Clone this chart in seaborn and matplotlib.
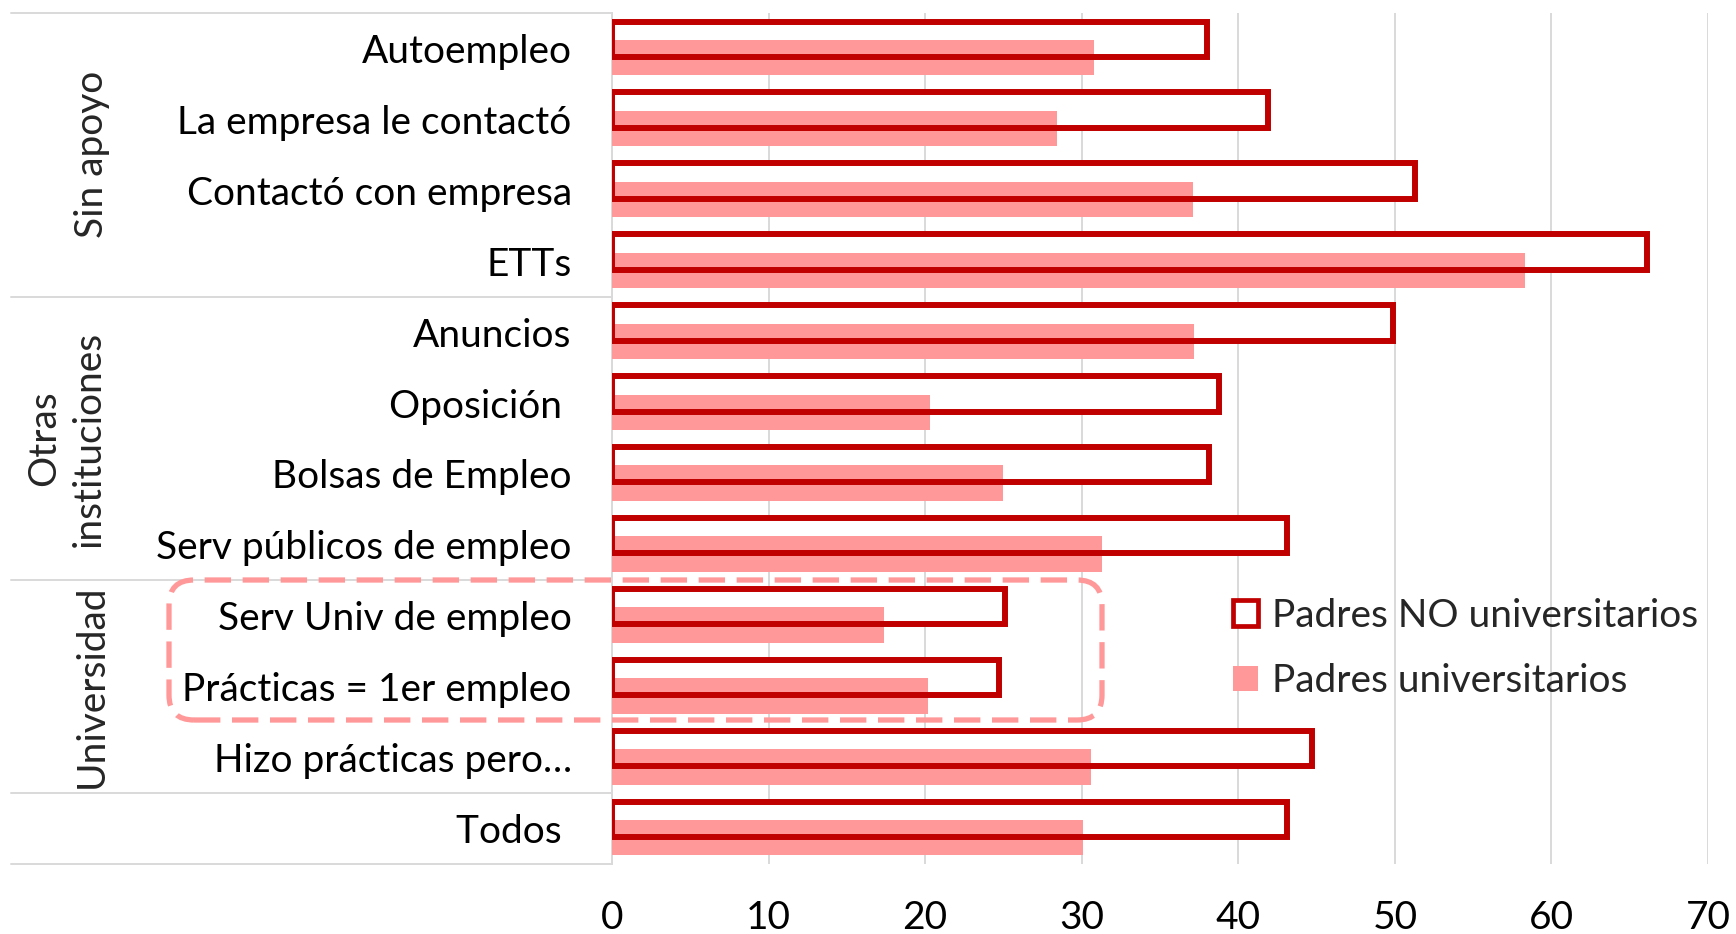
import pandas as pd
import matplotlib
matplotlib.use('Agg')
import matplotlib.pyplot as plt
import seaborn as sns
from matplotlib.patches import Patch, FancyBboxPatch

# Datos
categorias = ['Autoempleo', 'La empresa le contactó', 'Contactó con empresa', 'ETTs',
              'Anuncios', 'Oposición ', 'Bolsas de Empleo', 'Serv públicos de empleo',
              'Serv Univ de empleo', 'Prácticas = 1er empleo', 'Hizo prácticas pero…', 'Todos ']
no_univ = [38.0, 41.9, 51.3, 66.1, 49.9, 38.8, 38.1, 43.1, 25.1, 24.7, 44.7, 43.1]
univ = [30.8, 28.4, 37.1, 58.3, 37.2, 20.3, 25.0, 31.3, 17.4, 20.2, 30.6, 30.1]
grupos = ['Sin apoyo', 'Otras\ninstituciones', 'Universidad']
grupo_centros = [1.5, 5.5, 9.0]
separadores = [-0.5, 3.5, 7.5, 10.5, 11.5]
xticks = [0, 10, 20, 30, 40, 50, 60, 70]

ROJO = '#C00000'
ROSA = '#FF9999'
FS = 28

sns.set_theme(style='white')
plt.rcParams['font.family'] = ['Lato', 'DejaVu Sans']

df = pd.DataFrame({'cat': categorias, 'no': no_univ, 'uni': univ})

fig = plt.figure(figsize=(17.36, 9.34), dpi=100)
ax = fig.add_axes([612 / 1736, 70 / 934, 1096 / 1736, 851 / 934])

def shift(start, dy):
    for p in ax.patches[start:]:
        p.set_y(p.get_y() + dy)

# fondo blanco de las barras sin relleno
n = len(ax.patches)
sns.barplot(data=df, y='cat', x='no', order=categorias, orient='h', width=0.5,
            color='white', saturation=1, edgecolor='none', ax=ax, zorder=2)
shift(n, -0.13)
n = len(ax.patches)
sns.barplot(data=df, y='cat', x='uni', order=categorias, orient='h', width=0.5,
            color=ROSA, saturation=1, edgecolor='none', ax=ax, zorder=3)
shift(n, 0.13)
n = len(ax.patches)
sns.barplot(data=df, y='cat', x='no', order=categorias, orient='h', width=0.5,
            fill=False, edgecolor=ROJO, linewidth=4.3, ax=ax, zorder=4)
shift(n, -0.13)

ax.set_xlim(0, 70)
ax.set_ylim(11.5, -0.5)
ax.set_xticks(xticks)
ax.set_xlabel('')
ax.set_ylabel('')
ax.tick_params(axis='y', length=0, pad=29, labelsize=FS, labelcolor='black')
ax.tick_params(axis='x', length=0, pad=26, labelsize=FS, labelcolor='black')
ax.xaxis.grid(True, color='#d9d9d9', linewidth=1.4, zorder=0)
ax.set_axisbelow(True)
for s in ['top', 'right', 'bottom']:
    ax.spines[s].set_visible(False)
ax.spines['left'].set_color('#d9d9d9')
ax.spines['left'].set_linewidth(1.4)

# lineas de separacion de grupos
tr = ax.get_yaxis_transform()
for y in separadores:
    ax.plot([-0.548, 0], [y, y], transform=tr, color='#d9d9d9', lw=1.4, clip_on=False)

for g, c in zip(grupos, grupo_centros):
    x = -0.498 if '\n' in g else -0.4747
    ax.text(x, c, g, transform=tr, rotation=90, ha='center', va='center',
            fontsize=FS, multialignment='center', linespacing=1.3)

# recuadro discontinuo
caja = FancyBboxPatch((1.69, 2.14), 9.33, 1.40, boxstyle='round,pad=0,rounding_size=0.25',
                      transform=fig.dpi_scale_trans, fill=False, edgecolor=ROSA,
                      linewidth=3.8, linestyle=(0, (5, 2.2)), zorder=5)
fig.add_artist(caja)

handles = [Patch(facecolor='white', edgecolor=ROJO, linewidth=3.4, label='Padres NO universitarios'),
           Patch(facecolor=ROSA, edgecolor='none', label='Padres universitarios')]
fig.legend(handles=handles, loc='upper left', bbox_to_anchor=(1198 / 1736, 1 - 563 / 934),
           frameon=False, fontsize=FS, handlelength=0.65, handleheight=0.65,
           handletextpad=0.35, labelspacing=0.75)

fig.savefig('out.png', dpi=100)
